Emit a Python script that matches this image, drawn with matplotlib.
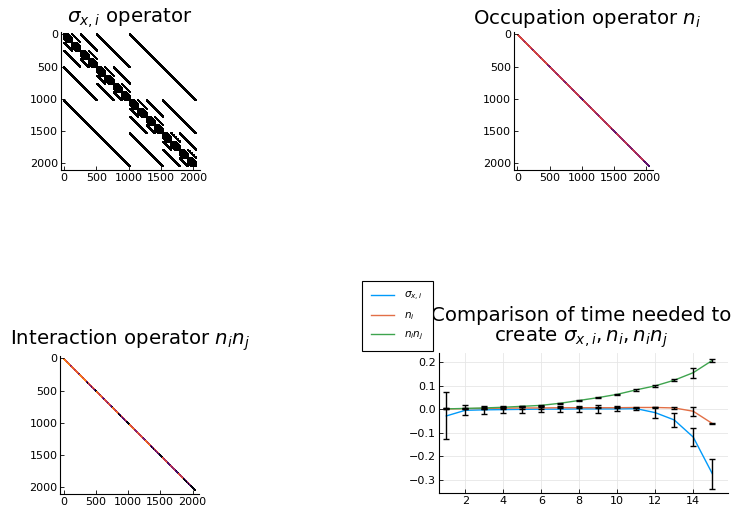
import numpy as np
import matplotlib.pyplot as plt

# system size: 11 sites -> 2048 x 2048 operators
n_sites = 11

# timing comparison (x = number of sites)
sizes = np.arange(1, 16)
sigma_mean = [-0.028, -0.004, -0.002, -0.001, 0.0, 0.001, 0.001, 0.002, 0.002, 0.002, 0.003, -0.014, -0.045, -0.118, -0.273]
sigma_err = [0.100, 0.022, 0.016, 0.016, 0.016, 0.013, 0.013, 0.012, 0.016, 0.011, 0.004, 0.024, 0.028, 0.037, 0.064]
ni_mean = [0.002, 0.003, 0.004, 0.005, 0.006, 0.006, 0.007, 0.007, 0.007, 0.007, 0.008, 0.008, 0.006, -0.008, -0.060]
ni_err = [0.002, 0.003, 0.003, 0.003, 0.003, 0.003, 0.003, 0.003, 0.003, 0.003, 0.002, 0.003, 0.006, 0.020, 0.004]
nn_mean = [0.002, 0.004, 0.006, 0.009, 0.013, 0.017, 0.026, 0.038, 0.050, 0.064, 0.083, 0.100, 0.124, 0.156, 0.208]
nn_err = [0.002, 0.002, 0.003, 0.003, 0.003, 0.003, 0.003, 0.003, 0.003, 0.002, 0.004, 0.003, 0.005, 0.022, 0.005]

labels = [r'$\sigma_{x,i}$', r'$n_i$', r'$n_in_j$']
colors = ['#009AFA', '#E26F46', '#3EA44E']

# operator matrices (nonzero pattern)
dim = 2 ** n_sites
idx = np.arange(dim)
sx_rows = np.concatenate([idx for k in range(n_sites)])
sx_cols = np.concatenate([idx ^ (1 << k) for k in range(n_sites)])
popcount = np.array([bin(i).count('1') for i in idx])
nn_diag = popcount * (popcount - 1) / 2

W, H = 733, 511
fig = plt.figure(figsize=(W / 100, H / 100), dpi=100)
plt.rcParams['font.family'] = 'DejaVu Sans'
TITLE_FS = 14.2


def px_axes(left, top, right, bottom):
    return fig.add_axes([left / W, 1 - bottom / H, (right - left) / W, (bottom - top) / H])


def style(ax, grid=False):
    for s in ['top', 'right']:
        ax.spines[s].set_visible(False)
    ax.tick_params(direction='in', labelsize=8, length=3, width=0.6, pad=2)
    ax.spines['left'].set_linewidth(0.8)
    ax.spines['bottom'].set_linewidth(0.8)
    if grid:
        ax.grid(True, color='#e6e6e6', linewidth=0.6)
        ax.set_axisbelow(True)


def matrix_axes(left, top):
    ax = px_axes(left, top, left + 138.7, top + 138.7)
    ax.set_xlim(-50, 2100)
    ax.set_ylim(2110, -40)
    ax.set_xticks([0, 500, 1000, 1500, 2000])
    ax.set_yticks([0, 500, 1000, 1500, 2000])
    style(ax)
    return ax


# sigma_x
ax1 = matrix_axes(60.8, 31.7)
ax1.scatter(sx_cols, sx_rows, s=0.8, marker='s', color='black', linewidths=0)
fig.text(130 / W, 1 - 18 / H, r'$\sigma_{x,i}$ operator', ha='center', va='center', fontsize=TITLE_FS)

# n_i
ax2 = matrix_axes(514.1, 31.7)
ax2.scatter(idx, idx, c=popcount, cmap='inferno_r', vmin=-4, vmax=14, s=1.2, marker='s', linewidths=0)
fig.text(587 / W, 1 - 18 / H, r'Occupation operator $n_i$', ha='center', va='center', fontsize=TITLE_FS)

# n_i n_j
ax3 = matrix_axes(60.3, 355.7)
ax3.scatter(idx, idx, c=nn_diag, cmap='inferno_r', vmin=-8, vmax=30, s=1.2, marker='s', linewidths=0)
fig.text(130 / W, 1 - 340 / H, r'Interaction operator $n_in_j$', ha='center', va='center', fontsize=TITLE_FS)

# timing comparison
ax4 = px_axes(438.7, 352.7, 728, 493.3)
style(ax4, grid=True)
for mean, lab, col in zip([sigma_mean, ni_mean, nn_mean], labels, colors):
    ax4.plot(sizes, mean, color=col, linewidth=1.0, label=lab)
for mean, err in zip([sigma_mean, ni_mean, nn_mean], [sigma_err, ni_err, nn_err]):
    ax4.errorbar(sizes, mean, yerr=err, fmt='none', ecolor='black', elinewidth=1.0, capsize=2, capthick=1.0)
ax4.set_xlim(0.6, 15.83)
ax4.set_ylim(-0.357, 0.241)
ax4.set_xticks([2, 4, 6, 8, 10, 12, 14])
ax4.set_yticks([-0.3, -0.2, -0.1, 0.0, 0.1, 0.2])
ax4.set_yticklabels(['\u22120.3', '\u22120.2', '\u22120.1', '0.0', '0.1', '0.2'])
fig.text(581 / W, 1 - 328 / H, 'Comparison of time needed to\n' + r'create $\sigma_{x,i}, n_i, n_in_j$',
         ha='center', va='center', fontsize=TITLE_FS, linespacing=1.05)

handles, labs = ax4.get_legend_handles_labels()
leg = fig.legend(handles, labs, loc='upper left', bbox_to_anchor=(362 / W, 1 - 281 / H),
                 fontsize=7.5, frameon=True, fancybox=False, edgecolor='black', framealpha=1,
                 handlelength=2.2, handletextpad=1.0, borderaxespad=0, borderpad=0.85,
                 labelspacing=0.7)
leg.get_frame().set_linewidth(0.8)

fig.savefig('out.png', dpi=100)
